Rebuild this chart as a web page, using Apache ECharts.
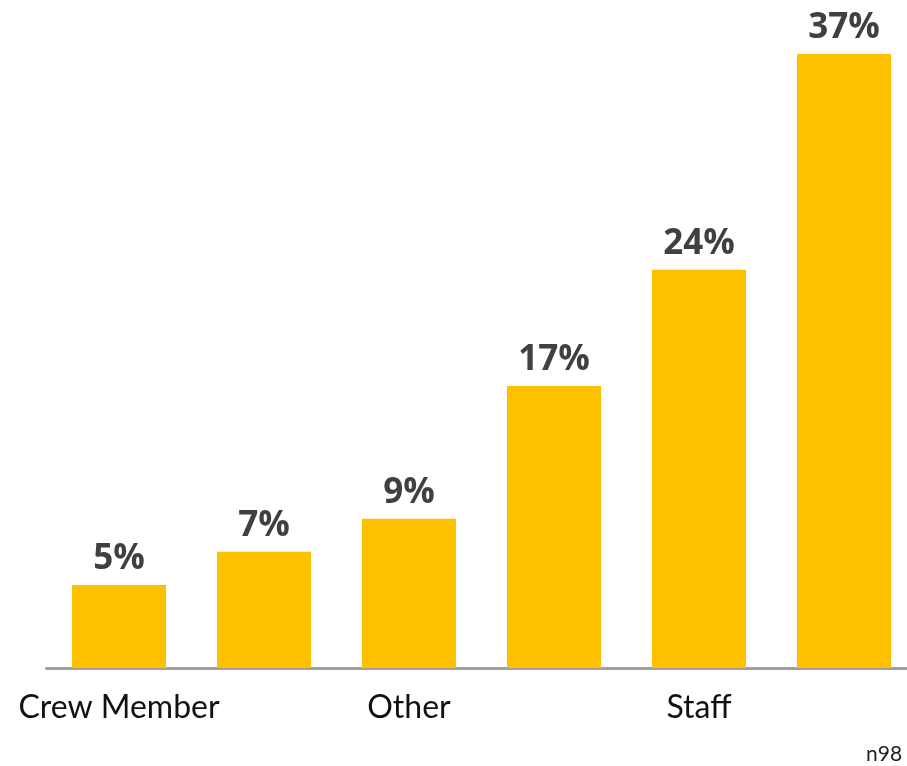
<!DOCTYPE html>
<html><head><meta charset="utf-8">
<script src="https://cdn.jsdelivr.net/npm/echarts@6/dist/echarts.min.js"></script>
<style>html,body{margin:0;padding:0;background:#fff;overflow:hidden}#c{width:920px;height:766px}</style>
</head><body><div id="c"></div>
<script>
const categories = ["Crew Member", "", "Other", "", "Staff", ""];
const values = [5, 7, 9, 17, 24, 37];
const note = "n98";

const chart = echarts.init(document.getElementById('c'));
chart.setOption({
  animation: false,
  grid: {left: 46.5, right: 3.5, top: 54, bottom: 98, containLabel: false},
  xAxis: {
    type: 'category', data: categories,
    axisLine: {lineStyle: {color: '#A0A0A0', width: 3}},
    axisTick: {show: false},
    axisLabel: {interval: 0, color: '#111', fontSize: 32, fontWeight: 'normal', fontFamily: 'Lato', margin: 24}
  },
  yAxis: {type: 'value', min: 0, max: 37, show: false, splitLine: {show: false}},
  series: [{
    type: 'bar', data: values, barWidth: 94,
    itemStyle: {color: '#FFC000'},
    label: {show: true, position: 'top', distance: 8, formatter: '{c}%', color: '#404040',
      fontSize: 35, fontWeight: 'bold', fontFamily: 'Open Sans'}
  }],
  graphic: [{type: 'text', left: 866, top: 744, style: {text: note, fontSize: 21, fontFamily: 'Lato', fill: '#222'}}]
});
</script></body></html>
